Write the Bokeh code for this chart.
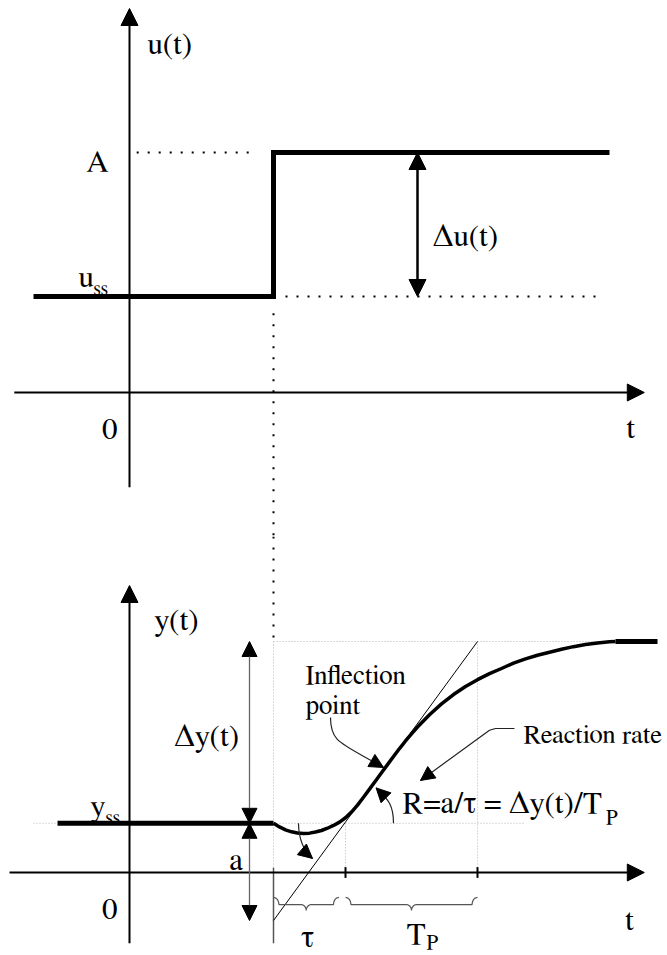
import numpy as np
from bokeh.plotting import figure
from bokeh.layouts import column
from bokeh.models import Range1d, Arrow, NormalHead, Label
from bokeh.embed import file_html
from bokeh.resources import INLINE

# ---------------- step input u(t) ----------------
t_step = 12.0          # time of the step
u_ss = 8.0             # steady-state input
u_A = 20.0             # input after the step
t_in_start = -8.0
t_in_end = 40.0

# ---------------- process reaction curve y(t) ----------------
y_ss = 4.1             # steady-state output
y_final = 19.25        # final output level
a = 8.1                # intercept of the tangent below y_ss at the step time
tau = 6.0              # apparent dead time
T_P = 11.0             # apparent time constant
t_out_start = -6.0
t_tail_end = 44.0

t_curve = [12.0, 12.5, 13.0, 13.5, 14.0, 14.5, 15.0, 15.5, 16.0, 16.5, 17.0,
           17.5, 18.0, 18.5, 19.0, 19.5, 20.0, 20.5, 21.0, 21.5, 22.0, 22.5,
           23.0, 23.5, 24.0, 25.0, 26.0, 27.0, 28.0, 29.0, 30.0, 31.0, 32.0,
           33.0, 34.0, 35.0, 36.0, 37.0, 38.0, 39.0, 40.0, 40.5]
y_curve = [4.1, 3.8, 3.55, 3.39, 3.29, 3.25, 3.28, 3.37, 3.5, 3.69, 3.92,
           4.2, 4.56, 5.04, 5.62, 6.27, 6.95, 7.63, 8.31, 8.99, 9.67, 10.33,
           10.96, 11.56, 12.12, 13.15, 14.05, 14.83, 15.5, 16.07, 16.57, 17.0, 17.45,
           17.8, 18.1, 18.35, 18.6, 18.82, 19.0, 19.13, 19.22, 19.25]

SERIF = "FreeSerif"
PX = 12.0                      # screen pixels per data unit
W, H_TOP, H_BOT = 667, 536, 419
XR = (-129 / PX, (W - 129) / PX)


def make_fig(h, y_axis_px):
    p = figure(width=W, height=h,
               x_range=Range1d(*XR),
               y_range=Range1d(-(h - y_axis_px) / PX, y_axis_px / PX),
               output_backend="svg", toolbar_location=None, min_border=0,
               x_axis_location=None, y_axis_location=None)
    p.grid.visible = False
    p.outline_line_color = None
    p.background_fill_color = "white"
    p.border_fill_color = "white"
    return p


def head(size):
    return NormalHead(size=size, fill_color="black", line_color="black", line_width=1)


def arrow(p, x0, y0, x1, y1, size=17, width=2.0, color="black", both=False, show_line=True):
    p.add_layout(Arrow(x_start=x0, y_start=y0, x_end=x1, y_end=y1,
                       end=head(size), start=head(size) if both else None,
                       line_width=width, line_color=color,
                       line_alpha=1.0 if show_line else 0.0))


def label(p, x, y, s, size=31, align="left"):
    p.add_layout(Label(x=x, y=y, text=s, text_font=SERIF,
                       text_font_size=f"{size}px", text_align=align,
                       text_baseline="alphabetic", text_color="black"))


def brace(x0, x1, y_top, y_mid, y_bot, r=0.45):
    xm = 0.5 * (x0 + x1)
    th = np.linspace(0, np.pi / 2, 12)
    xs, ys = [], []
    # left curl
    xs += list(x0 + r * np.sin(th)); ys += list(y_mid + (y_top - y_mid) * np.cos(th))
    # into the middle point
    xs += list(xm - r + r * np.sin(th)); ys += list(y_mid - (y_mid - y_bot) * (1 - np.cos(th)))
    # out of the middle point
    xs += list(xm + r - r * np.sin(th[::-1])); ys += list(y_mid - (y_mid - y_bot) * (1 - np.cos(th[::-1])))
    # right curl
    xs += list(x1 - r * np.sin(th[::-1])); ys += list(y_mid + (y_top - y_mid) * np.cos(th[::-1]))
    return xs, ys


# ================= top panel: input step =================
top = make_fig(H_TOP, 392)

dots = dict(line_color="black", line_width=2, line_dash="2 9")
top.line([0.6, t_step - 1.7], [u_A, u_A], **dots)
top.line([t_step + 1.0, t_in_end - 1.0], [u_ss, u_ss], **dots)
top.line([t_step, t_step], [u_ss - 1.4, -12.0], **dots)

arrow(top, -9.6, 0, 42.9, 0, size=17)
arrow(top, 0, -7.9, 0, 32.0, size=17)

top.line([t_in_start, t_step, t_step, t_in_end], [u_ss, u_ss, u_A, u_A],
         line_width=5, line_color="black", line_join="miter")

arrow(top, 24.0, u_ss, 24.0, u_A, size=17, width=2.5, both=True)

label(top, 1.5, 29.0, "u(t)")
label(top, -1.75, 19.17, "A", align="right")
label(top, -4.25, 9.6, "u", size=31)
label(top, -3.0, 8.6, "ss", size=20)
label(top, 25.3, 13.0, "Δu(t)")
label(top, -1.0, -3.0, "0", align="right")
label(top, 41.4, -3.0, "t")

# ================= bottom panel: process reaction curve =================
bot = make_fig(H_BOT, 336)

t_tau = t_step + tau
t_end = t_tau + T_P
grey = dict(line_color="#b5b5b5", line_width=1, line_dash="1 2")
bot.line([t_step, t_in_end], [y_final, y_final], **grey)
bot.line([t_step, 33.0], [y_ss, y_ss], **grey)
bot.line([-8.0, t_out_start], [y_ss, y_ss], **grey)
bot.line([t_step, t_step], [y_final, 0], **grey)
bot.line([t_tau, t_tau], [y_ss, 0], **grey)
bot.line([t_end, t_end], [y_final, 0], **grey)

# black dotted guide continuing from the step instant
bot.line([t_step, t_step], [28.0, y_final + 0.3], **dots)

arrow(bot, -10.0, 0, 42.9, 0, size=17)
arrow(bot, 0, -5.9, 0, 23.92, size=17)

# step instant marker below the axis
bot.line([t_step, t_step], [0.4, -5.9], line_color="#555555", line_width=1.5)

# tangent through the inflection point
bot.line([t_step, t_end], [y_ss - a, y_final], line_color="black", line_width=1)

# ticks at t_step + tau and t_step + tau + T_P
bot.segment(x0=[t_tau, t_end], y0=[0.45, 0.45], x1=[t_tau, t_end], y1=[-0.45, -0.45],
            line_color="black", line_width=2)

# response
bot.line([t_out_start, t_step], [y_ss, y_ss], line_width=5, line_color="black")
bot.line(t_curve, y_curve, line_width=3.5, line_color="black", line_join="round")
bot.line([t_curve[-1], t_tail_end], [y_final, y_final], line_width=5, line_color="black")

# braces for tau and T_P
for x0, x1 in [(t_step, t_tau - 0.55), (t_tau, t_end)]:
    bx, by = brace(x0, x1, -2.08, -2.67, -3.17)
    bot.line(bx, by, line_color="#555555", line_width=1.2)

# delta-y and a double arrows
arrow(bot, 10.0, y_ss, 10.0, y_final, size=15, width=1.3, color="#666666", both=True)
arrow(bot, 10.0, y_ss - a, 10.0, y_ss, size=15, width=1.3, color="#666666", both=True)

# curved pointers
ann = dict(line_color="#222222", line_width=1.2)
curved = [
    ((16.75, 12.92), (16.75, 10.83), (17.58, 10.83), (21.17, 8.75)),   # inflection point
    ((22.0, 4.1), (22.0, 5.8), (21.4, 6.2), (20.55, 7.05)),            # R arc
    ((14.08, 4.1), (14.1, 2.9), (14.4, 1.9), (15.25, 1.17)),           # small arc to tangent
]
for p0, c0, c1, p1 in curved:
    bot.bezier(x0=[p0[0]], y0=[p0[1]], x1=[p1[0]], y1=[p1[1]],
               cx0=[c0[0]], cy0=[c0[1]], cx1=[c1[0]], cy1=[c1[1]], **ann)
    arrow(bot, c1[0], c1[1], p1[0], p1[1], size=14, width=1, show_line=False)

rx = [32.08, 30.5, 30.0, 24.25]
ry = [12.0, 12.0, 11.85, 7.67]
bot.line(rx, ry, **ann)
arrow(bot, rx[-2], ry[-2], rx[-1], ry[-1], size=14, width=1, show_line=False)

label(bot, 2.08, 21.0, "y(t)")
label(bot, 3.75, 11.33, "Δy(t)")
label(bot, -3.25, 5.5, "y", size=31)
label(bot, -2.0, 4.55, "ss", size=20)
label(bot, 8.33, 1.0, "a")
label(bot, -1.0, -3.0, "0", align="right")
label(bot, 41.3, -4.0, "t")
label(bot, 14.83, -5.4, "τ", align="center")
label(bot, 23.1, -5.17, "T")
label(bot, 24.75, -5.83, "P", size=21)
label(bot, 14.67, 16.42, "Inflection", size=27)
label(bot, 14.67, 13.92, "point", size=27)
label(bot, 32.83, 11.42, "Reaction rate", size=26.6)
label(bot, 22.75, 5.75, "R=a/τ = Δy(t)/T")
label(bot, 39.7, 4.58, "P", size=21)

layout = column(top, bot, spacing=0)
open("out.html", "w").write(file_html(layout, INLINE))
